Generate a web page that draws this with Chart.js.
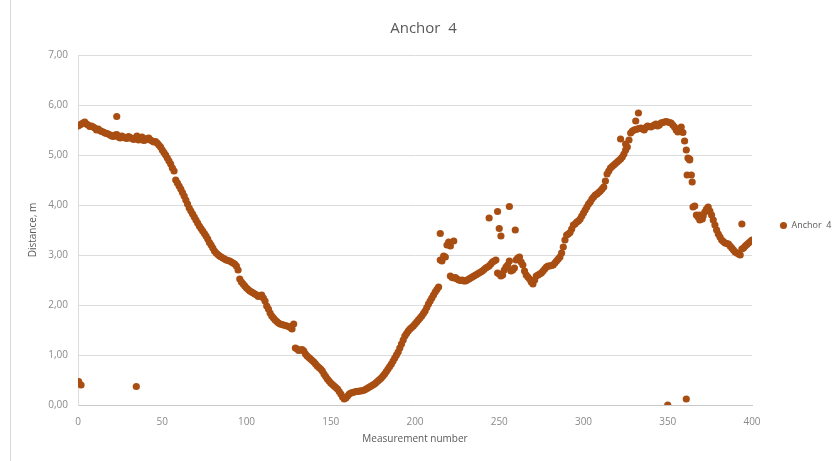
<!DOCTYPE html>
<html>
<head>
<meta charset="utf-8">
<script src="https://cdn.jsdelivr.net/npm/chart.js@4/dist/chart.umd.min.js"></script>
<style>
  html, body { margin: 0; padding: 0; background: #ffffff; }
  #wrap { position: relative; width: 837px; height: 461px; }
  #frame { position: absolute; left: 10px; top: 0; width: 826px; height: 461px; border-left: 1px solid #d9d9d9; box-sizing: border-box; pointer-events: none; }
  canvas { display: block; }
</style>
</head>
<body>
<div id="wrap">
  <canvas id="c" width="837" height="461"></canvas>
  <div id="frame"></div>
</div>
<script>
// Chart title and labels
const chartTitle = 'Anchor  4';
const seriesName = 'Anchor  4';
const xAxisTitle = 'Measurement number';
const yAxisTitle = 'Distance, m';

// Axis ticks
const xTicks = [0, 50, 100, 150, 200, 250, 300, 350, 400];
const yTicks = [0, 1, 2, 3, 4, 5, 6, 7];

// Distances at even measurement numbers 0, 2, 4, ... 400
const evenDistances = [
  5.58, 5.62, 5.66, 5.60, 5.58, 5.54, 5.52, 5.47, 5.44, 5.42,
  5.38, 5.40, 5.36, 5.38, 5.34, 5.37, 5.33, 5.34, 5.30, 5.36,
  5.30, 5.34, 5.28, 5.27, 5.20, 5.10, 5.00, 4.88, 4.74, 4.50,
  4.38, 4.25, 4.10, 3.94, 3.82, 3.70, 3.58, 3.48, 3.38, 3.25,
  3.14, 3.04, 2.98, 2.94, 2.90, 2.88, 2.84, 2.78, 2.52, 2.42,
  2.34, 2.28, 2.24, 2.20, 2.18, 2.14, 1.98, 1.84, 1.74, 1.67,
  1.62, 1.60, 1.58, 1.55, 1.62, 1.12, 1.10, 1.08, 0.98, 0.92,
  0.86, 0.78, 0.72, 0.62, 0.52, 0.44, 0.38, 0.32, 0.22, 0.12,
  0.18, 0.24, 0.26, 0.27, 0.28, 0.30, 0.34, 0.38, 0.42, 0.48,
  0.54, 0.62, 0.72, 0.82, 0.94, 1.06, 1.22, 1.38, 1.48, 1.55,
  1.62, 1.70, 1.78, 1.88, 2.02, 2.14, 2.26, 2.36, 2.88, 2.96,
  3.26, 2.55, 2.55, 2.50, 2.50, 2.48, 2.52, 2.56, 2.60, 2.64,
  2.68, 2.74, 2.78, 2.86, 2.90, 2.62, 2.60, 2.76, 2.88, 2.70,
  2.90, 2.96, 2.80, 2.60, 2.52, 2.42, 2.58, 2.62, 2.68, 2.76,
  2.78, 2.80, 2.88, 2.96, 3.16, 3.40, 3.45, 3.60, 3.66, 3.72,
  3.84, 3.96, 4.06, 4.16, 4.22, 4.28, 4.36, 4.62, 4.74, 4.80,
  4.86, 4.92, 5.02, 5.16, 5.44, 5.50, 5.52, 5.54, 5.50, 5.58,
  5.56, 5.60, 5.58, 5.64, 5.66, 5.66, 5.64, 5.56, 5.46, 5.56,
  5.28, 4.94, 4.60, 3.98, 3.76, 3.72, 3.86, 3.96, 3.80, 3.60,
  3.42, 3.30, 3.24, 3.22, 3.14, 3.06, 3.02, 3.12, 3.18, 3.24,
  3.30
];

// Distances at odd measurement numbers 1, 3, 5, ... 399
const oddDistances = [
  5.60, 5.64, 5.62, 5.57, 5.56, 5.50, 5.49, 5.46, 5.43, 5.40,
  5.37, 5.41, 5.34, 5.36, 5.33, 5.35, 5.31, 5.38, 5.32, 5.29,
  5.33, 5.30, 5.26, 5.24, 5.16, 5.05, 4.94, 4.82, 4.68, 4.44,
  4.32, 4.18, 4.02, 3.88, 3.76, 3.64, 3.53, 3.43, 3.32, 3.20,
  3.08, 3.01, 2.96, 2.92, 2.89, 2.86, 2.82, 2.70, 2.46, 2.38,
  2.31, 2.26, 2.22, 2.17, 2.20, 2.08, 1.92, 1.78, 1.70, 1.64,
  1.61, 1.59, 1.57, 1.52, 1.14, 1.09, 1.11, 1.02, 0.95, 0.89,
  0.82, 0.75, 0.68, 0.57, 0.48, 0.41, 0.35, 0.27, 0.16, 0.14,
  0.22, 0.25, 0.27, 0.28, 0.29, 0.32, 0.36, 0.40, 0.45, 0.51,
  0.58, 0.67, 0.77, 0.88, 1.00, 1.14, 1.30, 1.43, 1.52, 1.58,
  1.66, 1.74, 1.83, 1.95, 2.08, 2.20, 2.31, 2.90, 2.98, 3.20,
  2.58, 2.54, 2.52, 2.49, 2.48, 2.50, 2.54, 2.58, 2.62, 2.66,
  2.71, 2.76, 2.82, 2.88, 2.64, 2.58, 2.70, 2.80, 2.68, 2.74,
  2.94, 2.86, 2.68, 2.56, 2.46, 2.50, 2.60, 2.64, 2.72, 2.78,
  2.79, 2.84, 2.92, 3.04, 3.30, 3.42, 3.52, 3.62, 3.68, 3.78,
  3.90, 4.02, 4.12, 4.20, 4.25, 4.32, 4.48, 4.68, 4.77, 4.83,
  4.89, 4.96, 5.10, 5.30, 5.48, 5.51, 5.53, 5.52, 5.55, 5.57,
  5.58, 5.62, 5.60, 5.65, 5.67, 5.65, 5.60, 5.50, 5.52, 5.45,
  5.10, 4.90, 3.96, 3.80, 3.70, 3.78, 3.92, 3.88, 3.70, 3.50,
  3.36, 3.27, 3.23, 3.18, 3.10, 3.04, 3.00, 3.14, 3.21, 3.27
];

// Scattered readings
const extraMeasurements = [0.4, 1.8, 23, 34.6, 215, 221, 223, 244, 249, 250, 251, 256, 259.5, 322, 325, 331, 332.6, 350, 361, 361.5, 363, 364.5, 369, 370.5, 394];
const extraDistances   = [0.47, 0.40, 5.77, 0.37, 3.43, 3.18, 3.28, 3.74, 3.87, 3.53, 3.38, 3.97, 3.50, 5.32, 5.22, 5.68, 5.84, 0.00, 0.12, 4.60, 4.92, 4.46, 3.80, 3.72, 3.62];

const points = evenDistances.map((d, i) => ({ x: i * 2, y: d }))
  .concat(oddDistances.map((d, i) => ({ x: i * 2 + 1, y: d })))
  .concat(extraMeasurements.map((m, i) => ({ x: m, y: extraDistances[i] })));

const dotColor = '#A94E12';
const FONT = '"Open Sans", "Liberation Sans", sans-serif';
const fmt = v => Number(v).toFixed(2).replace('.', ',');

const legendFix = {
  id: 'legendFix',
  beforeLayout(chart) {
    const lg = chart.legend;
    if (lg && !lg._fixed) {
      const orig = lg.fit.bind(lg);
      lg.fit = function () { orig(); this.width = 85; };
      lg._fixed = true;
    }
  }
};

new Chart(document.getElementById('c'), {
  type: 'scatter',
  data: {
    datasets: [{
      label: seriesName,
      data: points,
      backgroundColor: dotColor,
      borderColor: dotColor,
      borderWidth: 0,
      pointRadius: 3.6,
      pointHoverRadius: 3.6
    }]
  },
  options: {
    responsive: false,
    animation: false,
    events: [],
    layout: { padding: { left: 10, right: 0, top: 0, bottom: 10 } },
    plugins: {
      title: {
        display: true,
        text: chartTitle,
        color: '#595959',
        font: { family: FONT, size: 15, weight: 'normal' },
        padding: { top: 20, bottom: 17 }
      },
      legend: {
        display: true,
        position: 'right',
        align: 'center',
        labels: {
          usePointStyle: true,
          pointStyle: 'circle',
          boxWidth: 7,
          boxHeight: 5,
          padding: 28,
          color: '#595959',
          font: { family: FONT, size: 9 }
        }
      },
      tooltip: { enabled: false }
    },
    scales: {
      x: {
        type: 'linear',
        min: 0,
        max: 400,
        afterBuildTicks(scale) { scale.ticks = xTicks.map(v => ({ value: v })); },
        afterFit(scale) { scale.height = 46; },
        ticks: {
          color: '#8A8A8A',
          font: { family: FONT, size: 10 },
          padding: 11,
          maxRotation: 0,
          callback: v => String(v)
        },
        grid: { display: false, drawTicks: false },
        border: { display: true, color: '#C8C8C8' },
        title: {
          display: true,
          text: xAxisTitle,
          color: '#595959',
          font: { family: FONT, size: 10 },
          padding: { top: 0, bottom: 6 }
        }
      },
      y: {
        type: 'linear',
        min: 0,
        max: 7,
        afterBuildTicks(scale) { scale.ticks = yTicks.map(v => ({ value: v })); },
        afterFit(scale) { scale.width = 68; },
        ticks: {
          color: '#8A8A8A',
          font: { family: FONT, size: 10 },
          padding: 10,
          callback: v => fmt(v)
        },
        grid: { color: '#DCDCDC', lineWidth: 1, drawTicks: false },
        border: { display: true, color: '#DCDCDC' },
        title: {
          display: true,
          text: yAxisTitle,
          color: '#595959',
          font: { family: FONT, size: 10 },
          padding: { top: 17, bottom: 0 }
        }
      }
    }
  },
  plugins: [legendFix]
});
</script>
</body>
</html>
